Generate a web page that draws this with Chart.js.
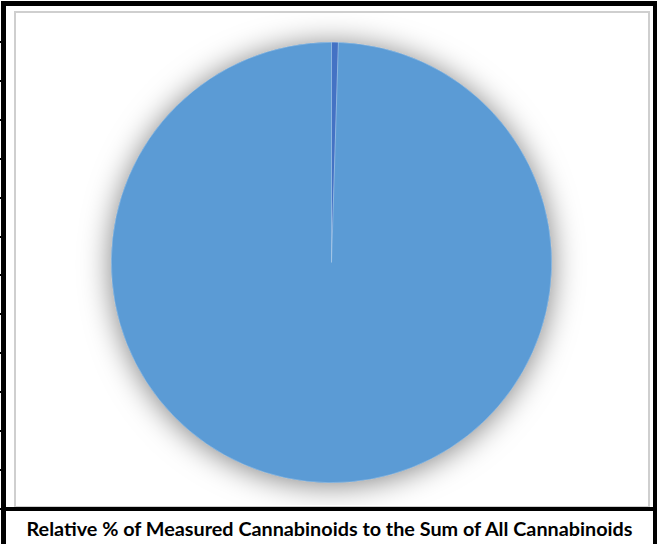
<!DOCTYPE html>
<html>
<head>
<meta charset="utf-8">
<script src="https://cdn.jsdelivr.net/npm/chart.js@4"></script>
<style>
  html, body { margin: 0; padding: 0; background: #fff; }
  #page { position: relative; width: 657px; height: 544px; overflow: hidden; background: #fff; }
  .bar { position: absolute; background: #000; }
  #frame { position: absolute; left: 14px; top: 11px; width: 632px; height: 493px; border: 2px solid #cfcfcf; background: #fff; }
  #chartBox { position: absolute; left: 16px; top: 13px; width: 631px; height: 492px; }
  #title { position: absolute; left: 6px; right: 4px; top: 512px; height: 32px; line-height: 32px; text-align: center;
           font-family: Lato, "Open Sans", sans-serif; font-weight: bold; font-size: 19.8px; color: #000; white-space: nowrap; }
  .tick { position: absolute; left: 0; width: 3px; height: 2px; background: #000; }
</style>
</head>
<body>
<div id="page">
  <div id="frame"></div>
  <div id="chartBox"><canvas id="pieChart"></canvas></div>
  <div class="bar" style="left:1px;top:1px;width:5px;height:543px"></div>
  <div class="bar" style="left:1px;top:1px;width:656px;height:5px"></div>
  <div class="bar" style="left:653px;top:1px;width:4px;height:543px"></div>
  <div class="bar" style="left:6px;top:507px;width:648px;height:4px"></div>
  <div id="title">Relative % of Measured Cannabinoids to the Sum of All Cannabinoids</div>
</div>
<script>
// Pie data
const sliceLabels = ['Minor cannabinoids', 'Major cannabinoid'];
const sliceValues = [0.5, 99.5];
const sliceColors = ['#4472C4', '#5B9BD5'];

// little ticks on the left edge of the outer frame
for (let i = 0; i < 13; i++) {
  const t = document.createElement('div');
  t.className = 'tick';
  t.style.top = (41 + i * 38.9) + 'px';
  document.getElementById('page').appendChild(t);
}

// soft outer shadow under the whole pie, like the Excel effect
const pieShadow = {
  id: 'pieShadow',
  beforeDatasetsDraw(chart) {
    const arc = chart.getDatasetMeta(0).data[0];
    if (!arc) return;
    const ctx = chart.ctx;
    ctx.save();
    ctx.shadowColor = 'rgba(0, 0, 0, 0.5)';
    ctx.shadowBlur = 30;
    ctx.shadowOffsetX = 0;
    ctx.shadowOffsetY = 2;
    ctx.fillStyle = '#5B9BD5';
    ctx.beginPath();
    ctx.arc(arc.x, arc.y, arc.outerRadius, 0, Math.PI * 2);
    ctx.fill();
    ctx.restore();
  }
};

const pieCtx = document.getElementById('pieChart').getContext('2d');

const pieChart = new Chart(pieCtx, {
  type: 'pie',
  data: {
    labels: sliceLabels,
    datasets: [{
      data: sliceValues,
      backgroundColor: sliceColors,
      borderColor: 'rgba(255, 255, 255, 0.4)',
      borderWidth: 0.6
    }]
  },
  options: {
    responsive: true,
    maintainAspectRatio: false,
    animation: false,
    layout: {
      padding: { top: 29, bottom: 22, left: 0, right: 0 }
    },
    plugins: {
      legend: { display: false },
      tooltip: { enabled: false },
      title: { display: false }
    }
  },
  plugins: [pieShadow]
});
</script>
</body>
</html>
